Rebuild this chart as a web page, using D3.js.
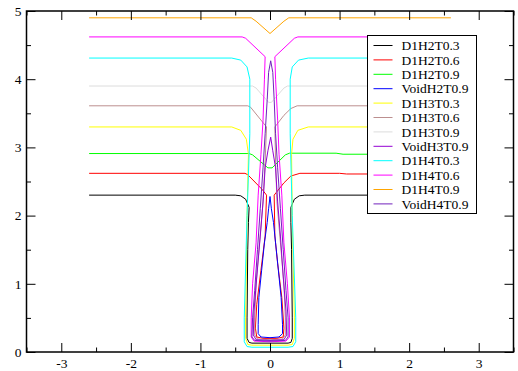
<!DOCTYPE html>
<html>
<head>
<meta charset="utf-8">
<script src="https://cdn.jsdelivr.net/npm/d3@7"></script>
<style>
  body { margin: 0; background: #fff; }
</style>
</head>
<body>
<svg id="chart" width="518" height="371"></svg>
<script>
// series names, in legend order
const names = ['D1H2T0.3', 'D1H2T0.6', 'D1H2T0.9', 'VoidH2T0.9',
    'D1H3T0.3', 'D1H3T0.6', 'D1H3T0.9', 'VoidH3T0.9',
    'D1H4T0.3', 'D1H4T0.6', 'D1H4T0.9', 'VoidH4T0.9'];

// profiles, [x, y]
const d1h2t03 = [[-2.6, 2.3], [-0.5, 2.3], [-0.42, 2.29], [-0.35, 2.24], [-0.3, 2.12], [-0.31, 1.9], [-0.32, 1.5],
    [-0.33, 0.5], [-0.33, 0.2], [-0.3, 0.14], [-0.26, 0.13], [0.26, 0.13], [0.3, 0.14], [0.32, 0.2], [0.32, 0.5],
    [0.31, 1.5], [0.3, 1.9], [0.3, 2.12], [0.35, 2.24], [0.42, 2.29], [0.5, 2.3], [2.6, 2.3]];
const d1h2t06 = [[-2.6, 2.62], [-0.36, 2.62], [-0.32, 2.6], [-0.11, 2.38], [-0.05, 2.3], [-0.07, 1.7], [-0.13, 1.2],
    [-0.19, 0.7], [-0.21, 0.35], [-0.19, 0.22], [-0.1, 0.2], [0.1, 0.2], [0.19, 0.22], [0.2, 0.35], [0.17, 0.8],
    [0.11, 1.3], [0.07, 1.7], [0.06, 2.3], [0.2, 2.48], [0.3, 2.58], [0.43, 2.62], [1.0, 2.62], [1.1, 2.61], [2.6, 2.61]];
const d1h2t09 = [[-2.6, 2.91], [-0.3, 2.91], [-0.25, 2.89], [-0.03, 2.7], [0.03, 2.7], [0.22, 2.89], [0.28, 2.915],
    [0.95, 2.915], [1.05, 2.9], [2.6, 2.9]];
const voidh2t09 = [[0, 2.28], [-0.02, 2.1], [-0.04, 1.9], [-0.08, 1.6], [-0.12, 1.2], [-0.16, 0.8], [-0.17, 0.4],
    [-0.17, 0.27], [-0.13, 0.22], [0, 0.21], [0.13, 0.22], [0.18, 0.27], [0.18, 0.4], [0.16, 0.8], [0.12, 1.2],
    [0.08, 1.6], [0.05, 1.9], [0.02, 2.1], [0, 2.28]];
const d1h3t03 = [[-2.6, 3.3], [-0.55, 3.3], [-0.42, 3.25], [-0.34, 3.12], [-0.31, 2.9], [-0.33, 2.0], [-0.35, 0.5],
    [-0.35, 0.2], [-0.32, 0.11], [-0.26, 0.1], [0.26, 0.1], [0.32, 0.11], [0.35, 0.2], [0.35, 0.5], [0.32, 2.0],
    [0.31, 2.9], [0.33, 3.12], [0.4, 3.25], [0.55, 3.3], [2.6, 3.3]];
const d1h3t06 = [[-2.6, 3.61], [-0.32, 3.61], [-0.28, 3.59], [-0.05, 3.3], [-0.07, 2.8], [-0.1, 2.2], [-0.15, 1.6],
    [-0.2, 1.0], [-0.22, 0.5], [-0.22, 0.25], [-0.18, 0.19], [0, 0.18], [0.18, 0.19], [0.22, 0.25], [0.22, 0.5],
    [0.2, 1.0], [0.15, 1.6], [0.1, 2.2], [0.08, 2.8], [0.07, 3.3], [0.2, 3.47], [0.3, 3.57], [0.39, 3.61], [2.6, 3.61]];
const d1h3t09 = [[-2.6, 3.9], [-0.25, 3.9], [-0.2, 3.87], [-0.02, 3.66], [0.02, 3.66], [0.2, 3.87], [0.25, 3.9], [2.6, 3.9]];
const voidh3t09 = [[0.01, 3.15], [-0.03, 2.95], [-0.07, 2.7], [-0.1, 2.2], [-0.14, 1.7], [-0.19, 1.1], [-0.23, 0.6],
    [-0.24, 0.25], [-0.2, 0.18], [0, 0.17], [0.2, 0.18], [0.24, 0.25], [0.23, 0.6], [0.19, 1.1], [0.15, 1.7],
    [0.11, 2.2], [0.08, 2.7], [0.04, 2.95], [0.01, 3.15]];
const d1h4t03 = [[-2.6, 4.31], [-0.55, 4.31], [-0.42, 4.28], [-0.33, 4.18], [-0.29, 4.0], [-0.29, 3.2], [-0.33, 2.0],
    [-0.37, 0.5], [-0.37, 0.15], [-0.33, 0.08], [-0.26, 0.07], [0.26, 0.07], [0.33, 0.08], [0.37, 0.15], [0.37, 0.5],
    [0.32, 2.0], [0.29, 3.2], [0.29, 4.0], [0.32, 4.18], [0.41, 4.28], [0.55, 4.31], [2.6, 4.31]];
const d1h4t06 = [[-2.6, 4.62], [-0.4, 4.62], [-0.35, 4.6], [-0.07, 4.33], [-0.08, 4.0], [-0.1, 3.4], [-0.13, 2.9],
    [-0.17, 2.3], [-0.2, 1.6], [-0.25, 1.0], [-0.27, 0.5], [-0.27, 0.22], [-0.23, 0.16], [0, 0.15], [0.23, 0.16],
    [0.28, 0.22], [0.28, 0.5], [0.25, 1.0], [0.2, 1.6], [0.17, 2.3], [0.13, 2.9], [0.11, 3.4], [0.08, 4.0],
    [0.07, 4.33], [0.35, 4.6], [0.4, 4.62], [2.6, 4.62]];
const d1h4t09 = [[-2.6, 4.9], [-0.27, 4.9], [-0.2, 4.85], [0, 4.67], [0.2, 4.85], [0.27, 4.9], [2.6, 4.9]];
const voidh4t09 = [[0.01, 4.27], [-0.02, 4.1], [-0.04, 3.7], [-0.07, 3.2], [-0.1, 2.7], [-0.14, 2.1], [-0.18, 1.5],
    [-0.22, 0.9], [-0.25, 0.5], [-0.26, 0.22], [-0.22, 0.17], [0, 0.16], [0.22, 0.17], [0.26, 0.22], [0.26, 0.5],
    [0.23, 0.9], [0.19, 1.5], [0.15, 2.1], [0.11, 2.7], [0.08, 3.2], [0.06, 3.7], [0.04, 4.1], [0.01, 4.27]];

const seriesData = [d1h2t03, d1h2t06, d1h2t09, voidh2t09, d1h3t03, d1h3t06, d1h3t09, voidh3t09,
    d1h4t03, d1h4t06, d1h4t09, voidh4t09];

const xTicks = [-3, -2, -1, 0, 1, 2, 3];
const yTicks = [0, 1, 2, 3, 4, 5];

// grace default palette
const colors = ['#000000', '#ff0000', '#00ff00', '#0000ff', '#ffff00', '#bc8f8f',
    '#dcdcdc', '#9400d3', '#00ffff', '#ff00ff', '#ffa500', '#7221bc'];

const serif = "'Liberation Serif', 'Times New Roman', Times, serif";
const plotLeft = 26.5, plotRight = 513.5, plotTop = 11, plotBottom = 352;
const svg = d3.select('#chart');

const x = d3.scaleLinear().domain([-3.5, 3.5]).range([plotLeft, plotRight]);
const y = d3.scaleLinear().domain([0, 5]).range([plotBottom, plotTop]);

const line = d3.line().x(d => x(d[0])).y(d => y(d[1]));

// curves
svg.append('g')
    .selectAll('path')
    .data(seriesData)
    .join('path')
    .attr('d', line)
    .attr('fill', 'none')
    .attr('stroke', (d, i) => colors[i])
    .attr('stroke-width', 1);

// axes, ticks pointing inward
const xMinor = d3.range(-3.5, 3.6, 0.5).filter(v => !xTicks.includes(v));
const yMinor = d3.range(0.5, 5, 1);
const plain = d => String(d);

function styleAxis(g) {
    g.attr('font-family', serif).attr('font-size', 13.5);
    g.select('.domain').remove();
    g.selectAll('.tick line').attr('stroke', '#000').attr('stroke-width', 1);
    g.selectAll('text').attr('fill', '#000');
}

svg.append('g').attr('transform', `translate(0,${plotBottom})`)
    .call(d3.axisBottom(x).tickValues(xTicks).tickSize(-9).tickPadding(6).tickFormat(plain))
    .call(styleAxis);
svg.append('g').attr('transform', `translate(0,${plotBottom})`)
    .call(d3.axisBottom(x).tickValues(xMinor).tickSize(-4.5).tickFormat(''))
    .call(styleAxis);
svg.append('g').attr('transform', `translate(0,${plotTop})`)
    .call(d3.axisTop(x).tickValues(xTicks).tickSize(-9).tickFormat(''))
    .call(styleAxis);
svg.append('g').attr('transform', `translate(0,${plotTop})`)
    .call(d3.axisTop(x).tickValues(xMinor).tickSize(-4.5).tickFormat(''))
    .call(styleAxis);

svg.append('g').attr('transform', `translate(${plotLeft},0)`)
    .call(d3.axisLeft(y).tickValues(yTicks).tickSize(-9).tickPadding(5).tickFormat(plain))
    .call(styleAxis);
svg.append('g').attr('transform', `translate(${plotLeft},0)`)
    .call(d3.axisLeft(y).tickValues(yMinor).tickSize(-4.5).tickFormat(''))
    .call(styleAxis);
svg.append('g').attr('transform', `translate(${plotRight},0)`)
    .call(d3.axisRight(y).tickValues(yTicks).tickSize(-9).tickFormat(''))
    .call(styleAxis);
svg.append('g').attr('transform', `translate(${plotRight},0)`)
    .call(d3.axisRight(y).tickValues(yMinor).tickSize(-4.5).tickFormat(''))
    .call(styleAxis);

// frame
svg.append('rect')
    .attr('x', plotLeft).attr('y', plotTop)
    .attr('width', plotRight - plotLeft).attr('height', plotBottom - plotTop)
    .attr('fill', 'none').attr('stroke', '#000').attr('stroke-width', 1.5);

// legend
const legend = svg.append('g').attr('transform', 'translate(367.5,35.5)');
legend.append('rect')
    .attr('width', 109).attr('height', 178)
    .attr('fill', '#fff').attr('stroke', '#000').attr('stroke-width', 1);

const rows = legend.selectAll('g.row')
    .data(names)
    .join('g')
    .attr('class', 'row')
    .attr('transform', (d, i) => `translate(0,${10 + i * 14.4})`);
rows.append('line')
    .attr('x1', 6).attr('x2', 25)
    .attr('stroke', (d, i) => colors[i]).attr('stroke-width', 1);
rows.append('text')
    .attr('x', 34).attr('dy', '0.35em')
    .attr('font-family', serif)
    .attr('font-size', 13.5)
    .text(d => d);
</script>
</body>
</html>
